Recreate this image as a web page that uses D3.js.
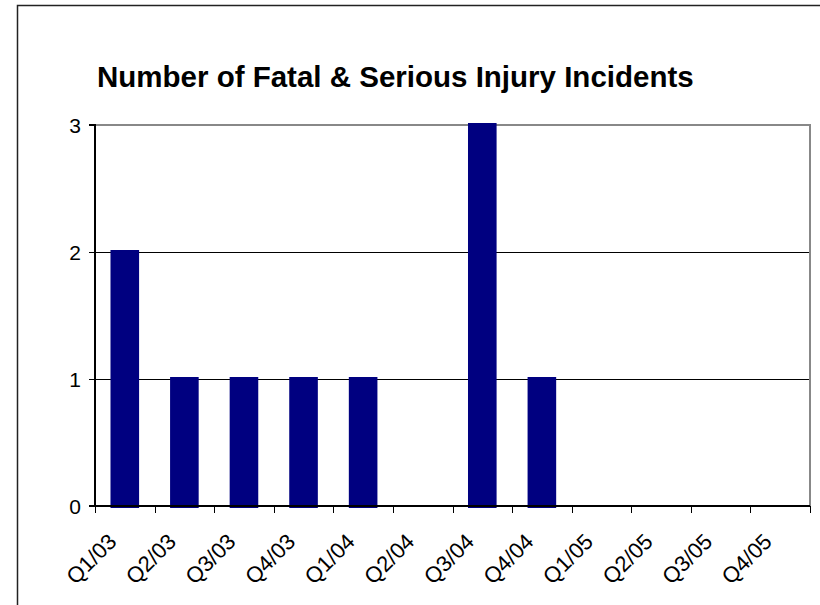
<!DOCTYPE html>
<html><head><meta charset="utf-8">
<script src="https://cdn.jsdelivr.net/npm/d3@7"></script>
<style>body{margin:0;background:#fff}svg{display:block}</style>
</head><body>
<script>
const categories = ["Q1/03","Q2/03","Q3/03","Q4/03","Q1/04","Q2/04","Q3/04","Q4/04","Q1/05","Q2/05","Q3/05","Q4/05"];
const values = [2,1,1,1,1,0,3,1,0,0,0,0];
const yTicks = [0,1,2,3];
const title = "Number of Fatal & Serious Injury Incidents";

const W = 820, H = 605;
const m = {left:95, right:10, top:125, bottom:99};
const FONT = "Liberation Sans, Arial, sans-serif";
const svg = d3.select("body").append("svg").attr("width",W).attr("height",H);

svg.append("rect").attr("x",17.5).attr("y",5.5).attr("width",W+20).attr("height",H+20)
  .attr("fill","none").attr("stroke","#222").attr("stroke-width",1.5);

const x = d3.scaleBand().domain(categories).range([m.left, W-m.right]).paddingInner(0.52).paddingOuter(0.26);
const xb = d3.scaleBand().domain(categories).range([m.left, W-m.right]);
const y = d3.scaleLinear().domain([0,3]).range([H-m.bottom, m.top]);

svg.append("text").attr("x",97).attr("y",87)
  .attr("font-family",FONT).attr("font-weight","bold")
  .attr("font-size",29.5).text(title);

// gridlines
svg.append("g").selectAll("line").data(yTicks.filter(d=>d>0&&d<3)).join("line")
  .attr("x1",m.left).attr("x2",W-m.right).attr("y1",d=>y(d)+0.5).attr("y2",d=>y(d)+0.5)
  .attr("stroke","#000").attr("stroke-width",1);
// top & right frame
svg.append("path").attr("d",`M${m.left},${y(3)}H${W-m.right}V${y(0)}`)
  .attr("fill","none").attr("stroke","#888").attr("stroke-width",2);

// bars
svg.append("g").selectAll("rect").data(values.map((v,i)=>({c:categories[i],v})).filter(d=>d.v>0))
  .join("rect")
  .attr("x",d=>x(d.c)).attr("width",x.bandwidth())
  .attr("y",d=>y(d.v)-2).attr("height",d=>y(0)-y(d.v)+4)
  .attr("fill","#000080");

// y axis
const ya = d3.axisLeft(y).tickValues(yTicks).tickSize(6).tickFormat(d3.format("d")).offset(0);
const gy = svg.append("g").attr("transform",`translate(${m.left},0)`).call(ya);
gy.select(".domain").attr("stroke","#000").attr("stroke-width",2);
gy.selectAll(".tick").attr("transform",d=>`translate(0,${y(d)+0.5})`);
gy.selectAll(".tick line").attr("stroke","#000");
gy.selectAll(".tick text").attr("font-family",FONT).attr("font-size",21)
  .attr("fill","#000").attr("x",-14).attr("dy","0.36em");

// x axis
const gx = svg.append("g").attr("transform",`translate(0,${y(0)})`);
gx.append("line").attr("x1",m.left).attr("x2",W-m.right).attr("stroke","#000").attr("stroke-width",2);
const bounds = categories.map(c=>xb(c)).concat([W-m.right]);
gx.selectAll("line.t").data(bounds).join("line").attr("class","t")
  .attr("x1",d=>Math.round(d)+0.5).attr("x2",d=>Math.round(d)+0.5).attr("y1",0).attr("y2",7).attr("stroke","#000");
gx.selectAll("text.l").data(categories).join("text").attr("class","l")
  .attr("transform",d=>`translate(${xb(d)+xb.bandwidth()/2-7},${37}) rotate(-45)`)
  .attr("text-anchor","end")
  .attr("font-family",FONT).attr("font-size",22).attr("fill","#000")
  .text(d=>d);
</script>
</body></html>
